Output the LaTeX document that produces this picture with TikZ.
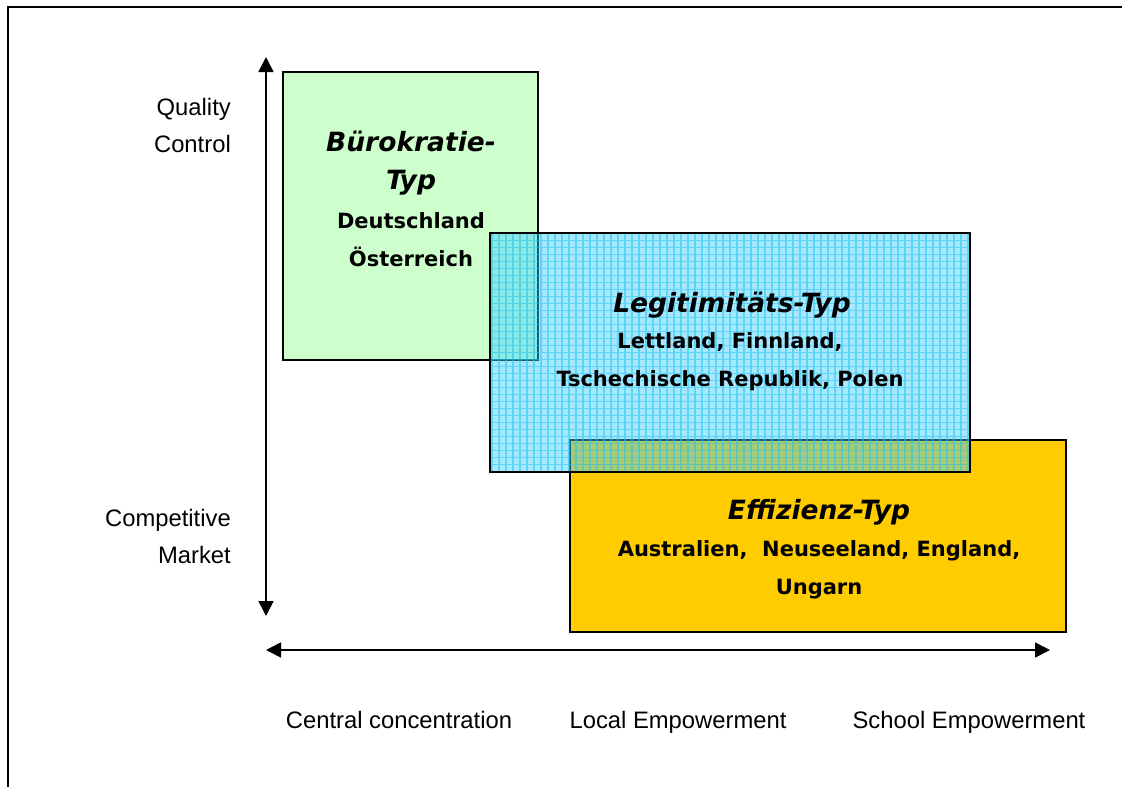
\documentclass[tikz,border=0pt]{standalone}
\usepackage{fontspec}
\setmainfont{Liberation Sans}
\newfontfamily\boxfont{DejaVu Sans}
\usetikzlibrary{arrows.meta}
\definecolor{greenfill}{HTML}{CCFFCC}
\definecolor{bluefill}{HTML}{40CCFF}
\definecolor{bluegrid}{HTML}{22C4F0}
\definecolor{yellowfill}{HTML}{FFCC00}
\begin{document}
\begin{tikzpicture}[x=1pt,y=-1pt,
  region/.style={draw=black,line width=2pt,inner sep=0pt},
  axislabel/.style={font=\fontsize{23.8}{37}\selectfont,inner sep=0pt,align=right},
  scalelabel/.style={font=\fontsize{23.8}{28}\selectfont,inner sep=0pt,anchor=base},
  typetitle/.style={font=\boxfont\bfseries\itshape\fontsize{26.5}{38}\selectfont,inner sep=0pt,align=center},
  members/.style={font=\boxfont\bfseries\fontsize{21}{38}\selectfont,inner sep=0pt,align=center},
  axis/.style={line width=1.6pt,{Triangle[length=15pt,width=15pt]}-{Triangle[length=15pt,width=15pt]}}]
\useasboundingbox (0,0) rectangle (1122,787);
\fill[white] (0,0) rectangle (1122,787);
% outer frame
\draw[line width=2pt] (8,787) -- (8,7) -- (1122,7);

% regions
\node[region,fill=greenfill,minimum width=255pt,minimum height=288pt] (buero) at (410.5,216) {};
\node[region,fill=yellowfill,minimum width=496pt,minimum height=192pt] (effi) at (818,536) {};
\node[region,fill=bluefill,fill opacity=0.45,minimum width=480pt,minimum height=239pt,
  path picture={\draw[bluegrid,line width=1.3pt,opacity=0.55]
    ([xshift=-3pt,yshift=-3pt]path picture bounding box.south west) grid[step=7pt]
    (path picture bounding box.north east);}] (legi) at (730,352.5) {};

% region texts
\node[typetitle] (buerot) at (411,163) {Bürokratie-\\Typ};
\node[members] (bueron) at (411,240) {Deutschland\\Österreich};
\node[typetitle] (legit) at (732,305) {Legitimitäts-Typ};
\node[members] (legin) at (730,362) {Lettland, Finnland,\\Tschechische Republik, Polen};
\node[typetitle] (effit) at (819,512) {Effizienz-Typ};
\node[members] (effin) at (819,570) {Australien,\ \ Neuseeland, England,\\Ungarn};

% axes
\coordinate (vtop) at (266,57);
\coordinate (vbot) at (266,616);
\coordinate (hleft) at (266,650);
\coordinate (hright) at (1050,650);
\draw[axis] (vbot) -- (vtop);
\draw[axis] (hleft) -- (hright);

% axis labels
\node[axislabel,anchor=east] (qc) at (231,125.5) {Quality\\Control};
\node[axislabel,anchor=east] (cm) at (231,536.5) {Competitive\\Market};
\node[scalelabel] (central) at (399,728) {Central concentration};
\node[scalelabel] (local) at (678,728) {Local Empowerment};
\node[scalelabel] (school) at (969,728) {School Empowerment};
\end{tikzpicture}
\end{document}
